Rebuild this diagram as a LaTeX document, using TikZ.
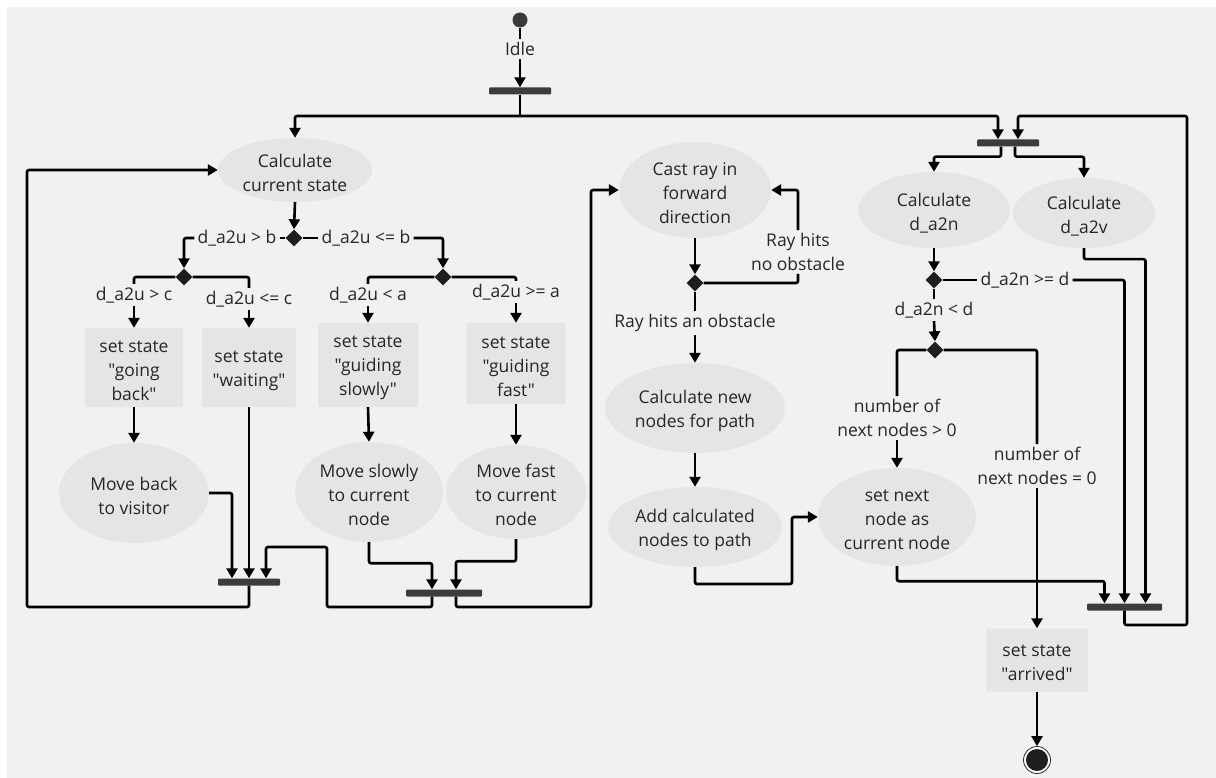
\documentclass[tikz,border=0pt]{standalone}
\usepackage{fontspec}
\setmainfont{Open Sans}[Ligatures=TeXOff]
\usetikzlibrary{arrows.meta,shapes.geometric}
\definecolor{panel}{HTML}{F1F1F1}
\definecolor{nodefill}{HTML}{E5E5E5}
\definecolor{ink}{HTML}{262626}
\definecolor{barc}{HTML}{3C3C3C}
\definecolor{decc}{HTML}{1E1E1E}
\definecolor{startc}{HTML}{3A3A3A}
\begin{document}
\begin{tikzpicture}[x=1pt,y=-1pt,
  base/.style={font=\fontsize{17.5}{24}\selectfont, text=ink, align=center},
  txt/.style={label={[base,yshift=-3pt]center:{#1}}},
  act/.style 2 args={ellipse, fill=nodefill, inner sep=0pt, minimum width=#1, minimum height=#2},
  stbox/.style 2 args={rectangle, fill=nodefill, rounded corners=2pt, inner sep=0pt, minimum width=#1, minimum height=#2},
  lbl/.style={base, inner sep=3pt},
  syncbar/.style={rectangle, fill=barc, minimum width=#1, minimum height=7pt, inner sep=0pt, rounded corners=1pt},
  choice/.style={diamond, aspect=1, fill=decc, minimum size=17pt, inner sep=0pt},
  flow/.style={draw=black, line width=2.6pt, rounded corners=2pt},
  arr/.style={flow, -{Triangle[length=10pt,width=11pt]}},
]
% canvas
\useasboundingbox (0,0) rectangle (1216,778);
\fill[white] (0,0) rectangle (1216,778);
\fill[panel] (7,7) rectangle (1216,778);

% ---------- nodes ----------
\node[circle, fill=startc, minimum size=15pt, inner sep=0pt] (start) at (520,20) {};
\node[lbl] (idle) at (520,49) {Idle};
\node[syncbar=62pt] (fork1) at (520,91) {};

% left branch
\node[act={154pt}{64pt}, txt={Calculate\\current state}] (calcState) at (295,170) {};
\node[choice] (dec1) at (294,238) {};
\node[lbl] (lblB1) at (237,238) {d\_a2u > b};
\node[lbl] (lblB2) at (366,238) {d\_a2u <= b};
\node[choice] (dec2) at (184,277) {};
\node[choice] (dec3) at (443,277) {};
\node[lbl] (lblC1) at (134,295) {d\_a2u > c};
\node[lbl] (lblC2) at (249,299) {d\_a2u <= c};
\node[lbl] (lblA1) at (368,295) {d\_a2u < a};
\node[lbl] (lblA2) at (516,292) {d\_a2u >= a};
\node[stbox={98pt}{79pt}, txt={set state\\"going\\back"}] (boxBack) at (134,367.5) {};
\node[stbox={94pt}{79pt}, txt={set state\\"waiting"}] (boxWait) at (249,367.5) {};
\node[stbox={100pt}{84pt}, txt={set state\\"guiding\\slowly"}] (boxSlow) at (368,365) {};
\node[stbox={99pt}{81pt}, txt={set state\\"guiding\\fast"}] (boxFast) at (516,363.5) {};
\node[act={150pt}{100pt}, txt={Move back\\to visitor}] (moveBack) at (134,493) {};
\node[act={148pt}{100pt}, txt={Move slowly\\to current\\node}] (moveSlow) at (369,492) {};
\node[act={140pt}{94pt}, txt={Move fast\\to current\\node}] (moveFast) at (516,492) {};
\node[syncbar=62pt] (fork4) at (249,582) {};
\node[syncbar=76pt] (fork5) at (444,593) {};

% middle branch
\node[act={152pt}{96pt}, txt={Cast ray in\\forward\\direction}] (castRay) at (695,190) {};
\node[choice] (dec4) at (695,283) {};
\node[lbl] (lblNo) at (798,252) {Ray hits\\no obstacle};
\node[lbl] (lblHit) at (695,323) {Ray hits an obstacle};
\node[act={180pt}{90pt}, txt={Calculate new\\nodes for path}] (calcNew) at (695,408) {};
\node[act={174pt}{80pt}, txt={Add calculated\\nodes to path}] (addCalc) at (695,527) {};
\node[act={158pt}{98pt}, txt={set next\\node as\\current node}] (setNext) at (897,517) {};

% right branch
\node[syncbar=62pt] (fork2) at (1008,143) {};
\node[act={152pt}{76pt}, txt={Calculate\\d\_a2n}] (calcN) at (934,210) {};
\node[act={142pt}{70pt}, txt={Calculate\\d\_a2v}] (calcV) at (1084,213) {};
\node[choice] (dec5) at (934,280) {};
\node[lbl] (lblGe) at (1025,280) {d\_a2n >= d};
\node[lbl] (lblLt) at (934,310) {d\_a2n < d};
\node[choice] (dec6) at (935,350) {};
\node[lbl] (lblPos) at (897,418) {number of\\next nodes > 0};
\node[lbl] (lblZero) at (1037,466) {number of\\next nodes = 0};
\node[syncbar=75pt] (fork3) at (1124.5,607) {};
\node[stbox={101pt}{63pt}, txt={set state\\"arrived"}] (boxArr) at (1037,660) {};
\node[circle, minimum size=27pt, inner sep=0pt, draw=ink, line width=0.8pt, fill=white] (final) at (1037,760) {};
\fill[decc] (final.center) circle (11pt);

% bend points
\coordinate (j1) at (520,116);
\coordinate (rb) at (1187,625);
\coordinate (rt) at (1187,116);
\coordinate (a1) at (792,584);
\coordinate (b1) at (327,607);
\coordinate (b2) at (327,547);
\coordinate (c1) at (591,607);
\coordinate (d1) at (27,607);

% ---------- connectors ----------
\draw[flow] (start) -- (idle);
\draw[arr] (idle) -- (fork1);
\draw[flow] (fork1.south) -- (j1);
\draw[arr] (j1) -| (calcState.north);
\draw[arr] (j1) -| ([xshift=-10pt]fork2.north);

% decisions on the left
\draw[arr] (calcState.south) -- (dec1.north);
\draw[flow] (dec1.west) -- (lblB1.east);
\draw[arr] (lblB1.west) -| (dec2.north);
\draw[flow] (dec1.east) -- (lblB2.west);
\draw[arr] (lblB2.east) -| (dec3.north);
\draw[flow] (dec2.west) -| (lblC1.north);
\draw[arr] (lblC1.south) -- (boxBack.north);
\draw[flow] (dec2.east) -| (lblC2.north);
\draw[arr] (lblC2.south) -- (boxWait.north);
\draw[flow] (dec3.west) -| (lblA1.north);
\draw[arr] (lblA1.south) -- (boxSlow.north);
\draw[flow] (dec3.east) -| (lblA2.north);
\draw[arr] (lblA2.south) -- (boxFast.north);
\draw[arr] (boxBack.south) -- (moveBack.north);
\draw[arr] (boxSlow.south) -- (moveSlow.north);
\draw[arr] (boxFast.south) -- (moveFast.north);
\draw[arr] (moveBack.east) -| ([xshift=-17pt]fork4.north);
\draw[arr] (boxWait.south) -- (fork4.north);
\draw[arr] (moveSlow.south) -- ++(0,21) -| ([xshift=-12pt]fork5.north);
\draw[arr] (moveFast.south) -- ++(0,22) -| ([xshift=12pt]fork5.north);
\draw[arr] ([xshift=-12pt]fork5.south) |- (b1) -- (b2) -| ([xshift=17pt]fork4.north);
\draw[arr] ([xshift=12pt]fork5.south) |- (c1) |- (castRay.west);
\draw[arr] (fork4.south) |- (d1) |- (calcState.west);

% ray casting
\draw[arr] (castRay.south) -- (dec4.north);
\draw[flow] (dec4.east) -| (lblNo.south);
\draw[arr] (lblNo.north) |- (castRay.east);
\draw[flow] (dec4.south) -- (lblHit.north);
\draw[arr] (lblHit.south) -- (calcNew.north);
\draw[arr] (calcNew.south) -- (addCalc.north);
\draw[arr] (addCalc.south) |- (a1) |- (setNext.west);

% distances on the right
\draw[arr] ([xshift=-7pt]fork2.south) -- ++(0,10) -| (calcN.north);
\draw[arr] ([xshift=7pt]fork2.south) -- ++(0,10) -| (calcV.north);
\draw[arr] (calcN.south) -- (dec5.north);
\draw[flow] (dec5.east) -- (lblGe.west);
\draw[arr] (lblGe.east) -| (fork3.north);
\draw[arr] (calcV.south) -- ++(0,11) -| ([xshift=21pt]fork3.north);
\draw[flow] (dec5.south) -- (lblLt.north);
\draw[arr] (lblLt.south) -- (dec6.north);
\draw[flow] (dec6.west) -| (lblPos.north);
\draw[arr] (lblPos.south) -- (setNext.north);
\draw[flow] (dec6.east) -| (lblZero.north);
\draw[arr] (lblZero.south) -- (boxArr.north);
\draw[arr] (setNext.south) -- ++(0,15) -| ([xshift=-20pt]fork3.north);
\draw[arr] (boxArr.south) -- (final.north);
\draw[arr] (fork3.south) |- (rb) -- (rt) -| ([xshift=10pt]fork2.north);
\end{tikzpicture}
\end{document}
